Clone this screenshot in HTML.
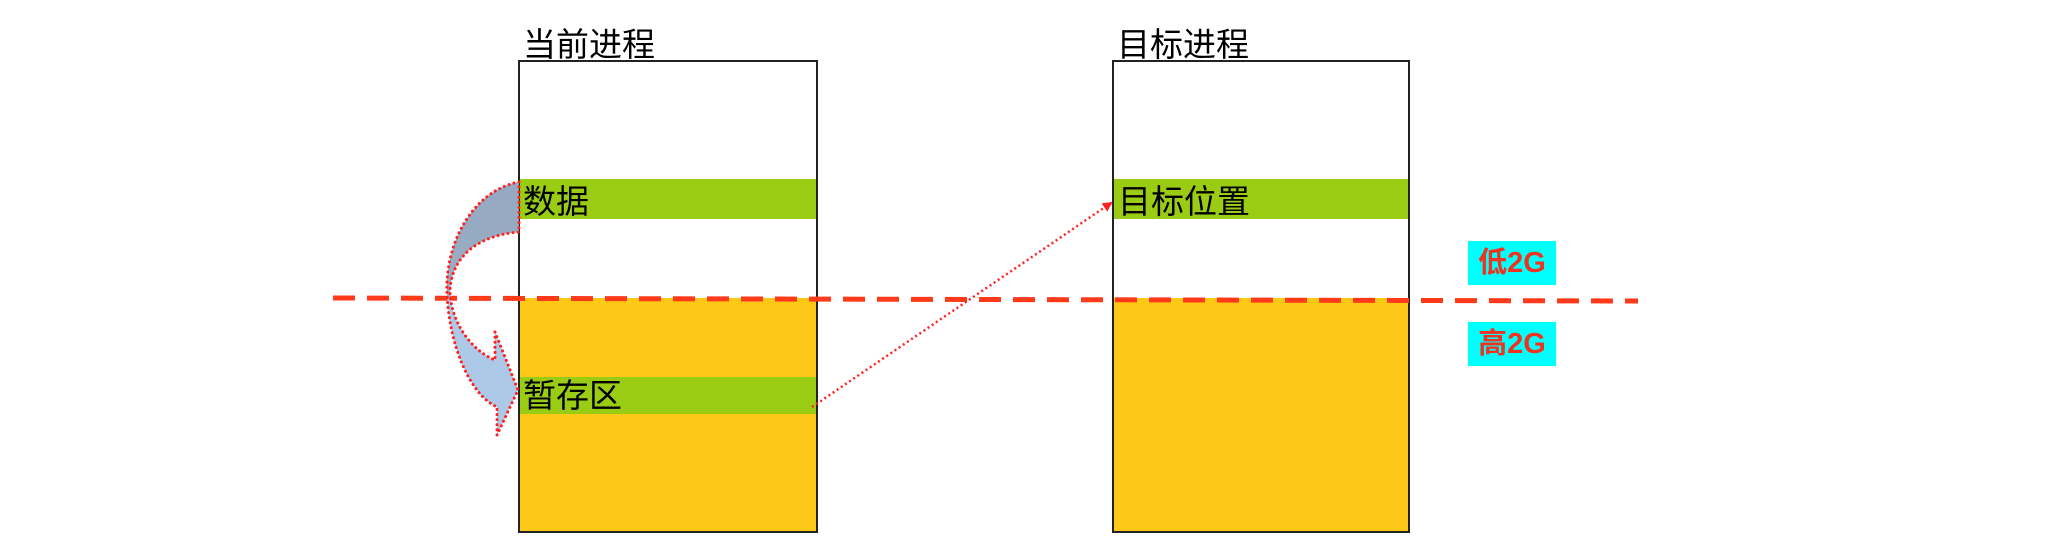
<!DOCTYPE html>
<html><head><meta charset="utf-8"><style>
html,body{margin:0;padding:0;background:#fff}
body{width:2046px;height:552px;position:relative;overflow:hidden;font-family:"Liberation Sans","Noto Sans CJK SC",sans-serif}
.t{position:absolute;font-size:33px;line-height:33px;color:#000;white-space:nowrap}
.lab{position:absolute;background:#00ffff;color:#f0321e;font-weight:bold;font-size:29px;line-height:44px;text-align:center;width:88px;height:44px}
</style></head><body>
<svg width="2046" height="552" style="position:absolute;left:0;top:0">
<defs>
<linearGradient id="g" x1="0" y1="0" x2="0" y2="1">
<stop offset="0" stop-color="#8fa5be"/><stop offset="0.45" stop-color="#93a9c1"/><stop offset="0.47" stop-color="#a8c8e8"/><stop offset="1" stop-color="#a6c4e4"/>
</linearGradient>
<marker id="ah" markerWidth="10" markerHeight="10" refX="8" refY="5" orient="auto" markerUnits="userSpaceOnUse"><path d="M0,0 L10,5 L0,10 Z" fill="#ff2020"/></marker>
</defs>
<rect x="519" y="61" width="298" height="471" fill="#fff" stroke="#222" stroke-width="2"/>
<rect x="520" y="298" width="296" height="233" fill="#fdc916"/>
<rect x="520" y="179" width="296" height="40" fill="#9acc14"/>
<rect x="520" y="377" width="296" height="37" fill="#9acc14"/>
<rect x="1113" y="61" width="296" height="471" fill="#fff" stroke="#222" stroke-width="2"/>
<rect x="1114" y="298" width="294" height="233" fill="#fdc916"/>
<rect x="1114" y="179" width="294" height="40" fill="#9acc14"/>
<line x1="333" y1="298" x2="1638" y2="301" stroke="#ff3a1a" stroke-width="5" stroke-dasharray="22,12"/>
<path d="M519,182 C475,190 445,240 447,293 C449,345 470,395 497,407 L497,435 L518,390 L495,332 L495,360 C470,350 450,320 450,290 C452,255 480,235 519,232 Z" fill="url(#g)" stroke="#ff2020" stroke-width="3" stroke-dasharray="0.1,5" stroke-linecap="round" fill-opacity="0.95"/>
<line x1="812" y1="407" x2="1111" y2="203" stroke="#ff2020" stroke-width="2.5" stroke-dasharray="2,3" marker-end="url(#ah)"/>
</svg>
<div class="t" style="left:523px;top:28px">当前进程</div>
<div class="t" style="left:1117px;top:28px">目标进程</div>
<div class="t" style="left:523px;top:185px">数据</div>
<div class="t" style="left:523px;top:379px">暂存区</div>
<div class="t" style="left:1118px;top:185px">目标位置</div>
<div class="lab" style="left:1468px;top:241px">低2G</div>
<div class="lab" style="left:1468px;top:322px">高2G</div>
</body></html>
